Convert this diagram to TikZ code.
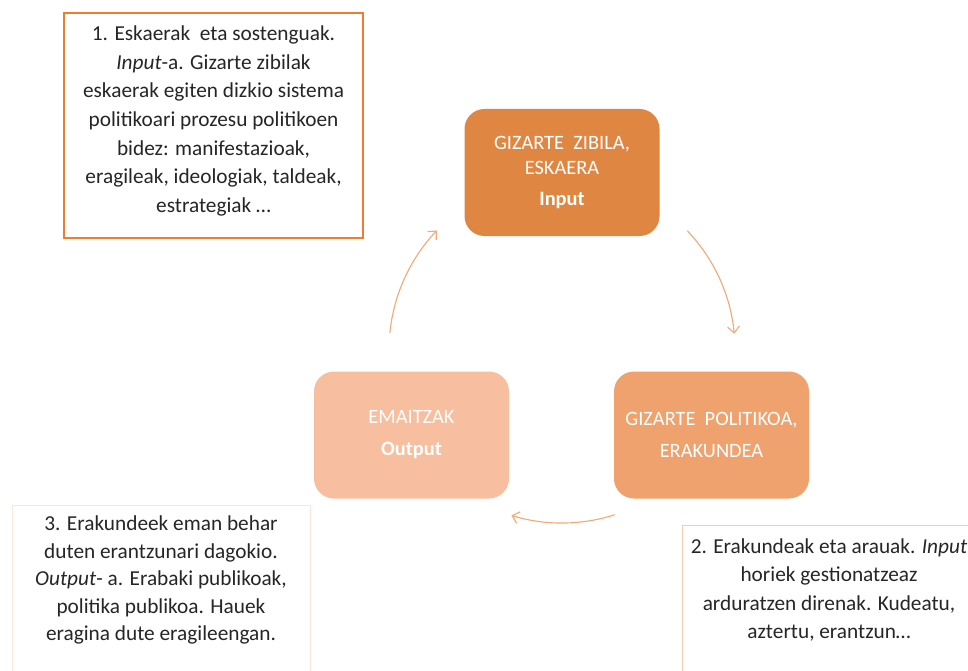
\documentclass[tikz,border=0pt]{standalone}
\usepackage{fontspec}
\setmainfont{Carlito}
\usetikzlibrary{arrows.meta}
\definecolor{accent}{HTML}{ED7D31}
\definecolor{topfill}{HTML}{DF8742}
\definecolor{rightfill}{HTML}{EFA16E}
\definecolor{leftfill}{HTML}{F7BE9F}
\definecolor{arrowcol}{HTML}{F3A873}
\definecolor{lightborder}{HTML}{F9CDAE}
\definecolor{paleborder}{HTML}{FCE6D8}
\definecolor{txt}{HTML}{262626}
\tikzset{
  stagebox/.style={draw=none, rounded corners=20pt, minimum width=195pt, minimum height=127pt,
    text=white, align=center, font=\fontsize{20.4}{25}\selectfont, inner sep=0pt},
  notebox/.style={draw, line width=1.4pt, inner sep=0pt},
  notetext/.style={text=txt, align=center, font=\fontsize{21.3}{28.7}\selectfont, inner sep=0pt},
  cyclearrow/.style={draw=arrowcol, line width=1.1pt, -{Straight Barb[length=6.5pt,width=12pt,line width=1.1pt]}}
}
\begin{document}
\begin{tikzpicture}[x=1pt,y=1pt]
\useasboundingbox (0,0) rectangle (968,-671);
\clip (0,0) rectangle (968,-671);
\fill[white] (0,0) rectangle (968,-671);

% stage nodes
\node[stagebox, fill=topfill] (top) at (562,-172.5) {GIZARTE\ \ ZIBILA,\\ESKAERA\\[6pt]\textbf{Input}};
\node[stagebox, fill=rightfill, font=\fontsize{20.4}{32}\selectfont] (right) at (711.5,-435) {GIZARTE\ \ POLITIKOA,\\ERAKUNDEA};
\node[stagebox, fill=leftfill, font=\fontsize{20.4}{32}\selectfont] (left) at (411.5,-435) {EMAITZAK\\\textbf{Output}};

% note boxes
\node[notebox, draw=accent, minimum width=299pt, minimum height=225pt] (n1) at (213.5,-125.5) {};
\node[notetext] (t1) at (213.5,-121) {1. Eskaerak\ \ eta sostenguak.\\\textit{Input}-a. Gizarte zibilak\\eskaerak egiten dizkio sistema\\politikoari prozesu politikoen\\bidez: manifestazioak,\\eragileak, ideologiak, taldeak,\\estrategiak \dots};

\node[notebox, draw=paleborder, minimum width=298pt, minimum height=200pt, anchor=north west] (n3) at (12,-505) {};
\node[notetext, font=\fontsize{21.3}{27.5}\selectfont] (t3) at (161,-580) {3. Erakundeek eman behar\\duten erantzunari dagokio.\\\textit{Output}- a. Erabaki publikoak,\\politika publikoa. Hauek\\eragina dute eragileengan.};

\node[notebox, draw=lightborder, minimum width=300pt, minimum height=200pt, anchor=north west] (n2) at (682,-525) {};
\node[notetext, font=\fontsize{21.3}{28.5}\selectfont] (t2) at (829,-590) {2. Erakundeak eta arauak. \textit{Input}\\horiek gestionatzeaz\\arduratzen direnak. Kudeatu,\\aztertu, erantzun\dots};

% cycle arrows on a circle centred at (562,-350), radius 173
\coordinate (cc) at (562,-350);
\path (cc) ++(43.6:173) coordinate (p1s);
\path (cc) ++(-72.2:173) coordinate (p2s);
\path (cc) ++(174.3:173) coordinate (p3s);
\draw[cyclearrow] (p1s) arc[start angle=43.6, end angle=5.4, radius=173];
\draw[cyclearrow] (p2s) arc[start angle=-72.2, end angle=-107, radius=173];
\draw[cyclearrow] (p3s) arc[start angle=174.3, end angle=136.3, radius=173];
\end{tikzpicture}
\end{document}
